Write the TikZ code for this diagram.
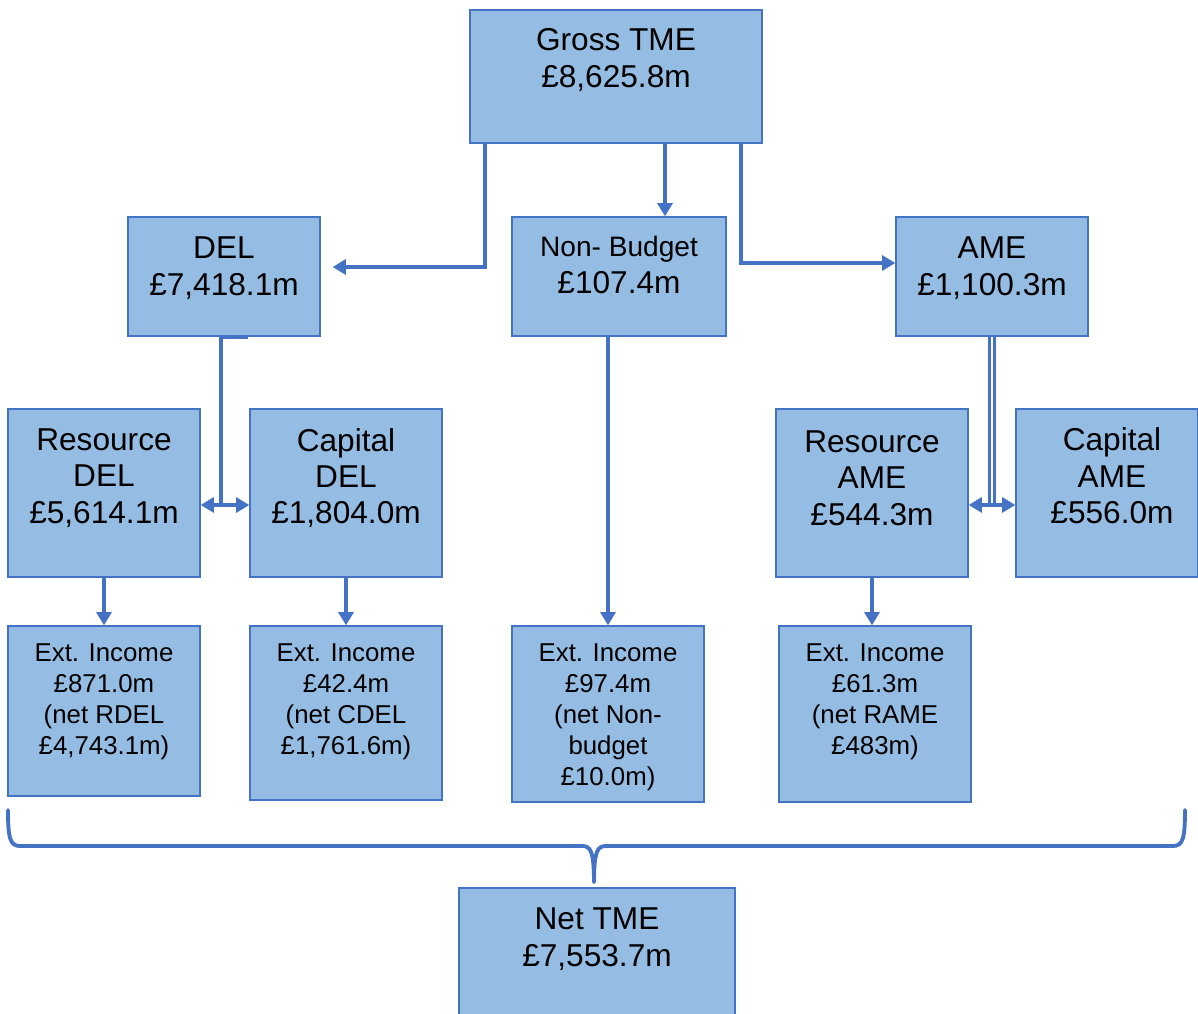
\documentclass[tikz,border=0pt]{standalone}
\usepackage{fontspec}
\setmainfont{Liberation Sans}
\usetikzlibrary{positioning,fit,arrows.meta}
\definecolor{boxfill}{HTML}{95BDE3}
\definecolor{boxline}{HTML}{4472C4}

\begin{document}
\begin{tikzpicture}[x=0.02cm,y=-0.02cm,
  box/.style={draw=boxline,fill=boxfill,line width=0.8pt,inner sep=0pt},
  big/.style={align=center,inner sep=0pt,font=\fontsize{18}{20.7}\selectfont},
  small/.style={align=center,inner sep=0pt,font=\fontsize{14.7}{17.6}\selectfont},
  conn/.style={draw=boxline,line width=2.2pt},
  link/.style={conn,-{Triangle[length=7.5pt,width=8.5pt]}},
  both/.style={conn,{Triangle[length=7.5pt,width=8.5pt]}-{Triangle[length=7.5pt,width=8.5pt]}}]
\useasboundingbox (0,0) rectangle (1198,1014);

% boxes
\node[box,fit={(470,10) (762,143)}] (gross) {};
\node[box,fit={(128,217) (320,336)}] (del) {};
\node[box,fit={(512,217) (726,336)}] (nb) {};
\node[box,fit={(896,217) (1088,336)}] (ame) {};
\node[box,fit={(8,409) (200,577)}] (resdel) {};
\node[box,fit={(250,409) (442,577)}] (capdel) {};
\node[box,fit={(776,409) (968,577)}] (resame) {};
\node[box,fit={(1016,409) (1198,577)}] (capame) {};
\node[box,fit={(8,626) (200,796)}] (extdel) {};
\node[box,fit={(250,626) (442,800)}] (extcdel) {};
\node[box,fit={(512,626) (704,802)}] (extnb) {};
\node[box,fit={(779,626) (971,802)}] (extrame) {};
\node[box,fit={(459,888) (735,1040)}] (net) {};

% texts
\node[big] (grosstxt) at (616,60) {Gross TME\\£8,625.8m};
\node[big] (deltxt) at (224,268) {DEL\\£7,418.1m};
\node[big] (nbtxt) at (619,265) {{\fontsize{16}{20.7}\selectfont Non- Budget}\\£107.4m};
\node[big] (ametxt) at (992,268) {AME\\£1,100.3m};
\node[big] (resdeltxt) at (104,478) {Resource\\DEL\\£5,614.1m};
\node[big] (capdeltxt) at (346,478) {Capital\\DEL\\£1,804.0m};
\node[big] (resametxt) at (872,478) {Resource\\AME\\£544.3m};
\node[big] (capametxt) at (1112,476) {Capital\\AME\\£556.0m};
\node[small] (extdeltxt) at (104,702) {Ext. Income\\£871.0m\\(net RDEL\\£4,743.1m)};
\node[small] (extcdeltxt) at (346,702) {Ext. Income\\£42.4m\\(net CDEL\\£1,761.6m)};
\node[small] (extnbtxt) at (608,717) {Ext. Income\\£97.4m\\(net Non-\\budget\\£10.0m)};
\node[small] (extrametxt) at (875,702) {Ext. Income\\£61.3m\\(net RAME\\£483m)};
\node[big] (nettxt) at (597,939) {Net TME\\£7,553.7m};

\coordinate (deljoin) at (221,505);
\coordinate (amejoin) at (992,505);

% connectors
\draw[link,shorten >=6.8pt] ([xshift=-2.62cm]gross.south) |- ([yshift=0.19cm]del.east);
\draw[link] ([xshift=0.98cm]gross.south) -- ([xshift=0.92cm]nb.north);
\draw[link] ([xshift=2.5cm]gross.south) |- ([yshift=0.27cm]ame.west);
\draw[conn] ([xshift=0.48cm]del.south) -| (deljoin);
\draw[both] (resdel.east |- deljoin) -- (capdel.west |- deljoin);
\draw[conn,line width=1.5pt,double=white,double distance=1.1pt] (ame.south) -- (amejoin);
\draw[both] (resame.east |- amejoin) -- (capame.west |- amejoin);
\draw[link] (extnb.north |- nb.south) -- (extnb.north);
\draw[link] (resdel.south) -- (extdel.north);
\draw[link] (capdel.south) -- (capdel.south |- extcdel.north);
\draw[link] (resame.south) -- (resame.south |- extrame.north);

% brace
\draw[conn,line cap=round] (8,810) .. controls (8,838) and (10,846) .. (20,846) -- (582,846)
  .. controls (590,846) and (594,850) .. (594,882);
\draw[conn,line cap=round] (594,882) .. controls (594,850) and (598,846) .. (606,846)
  -- (1173,846) .. controls (1183,846) and (1185,838) .. (1185,810);
\end{tikzpicture}
\end{document}
